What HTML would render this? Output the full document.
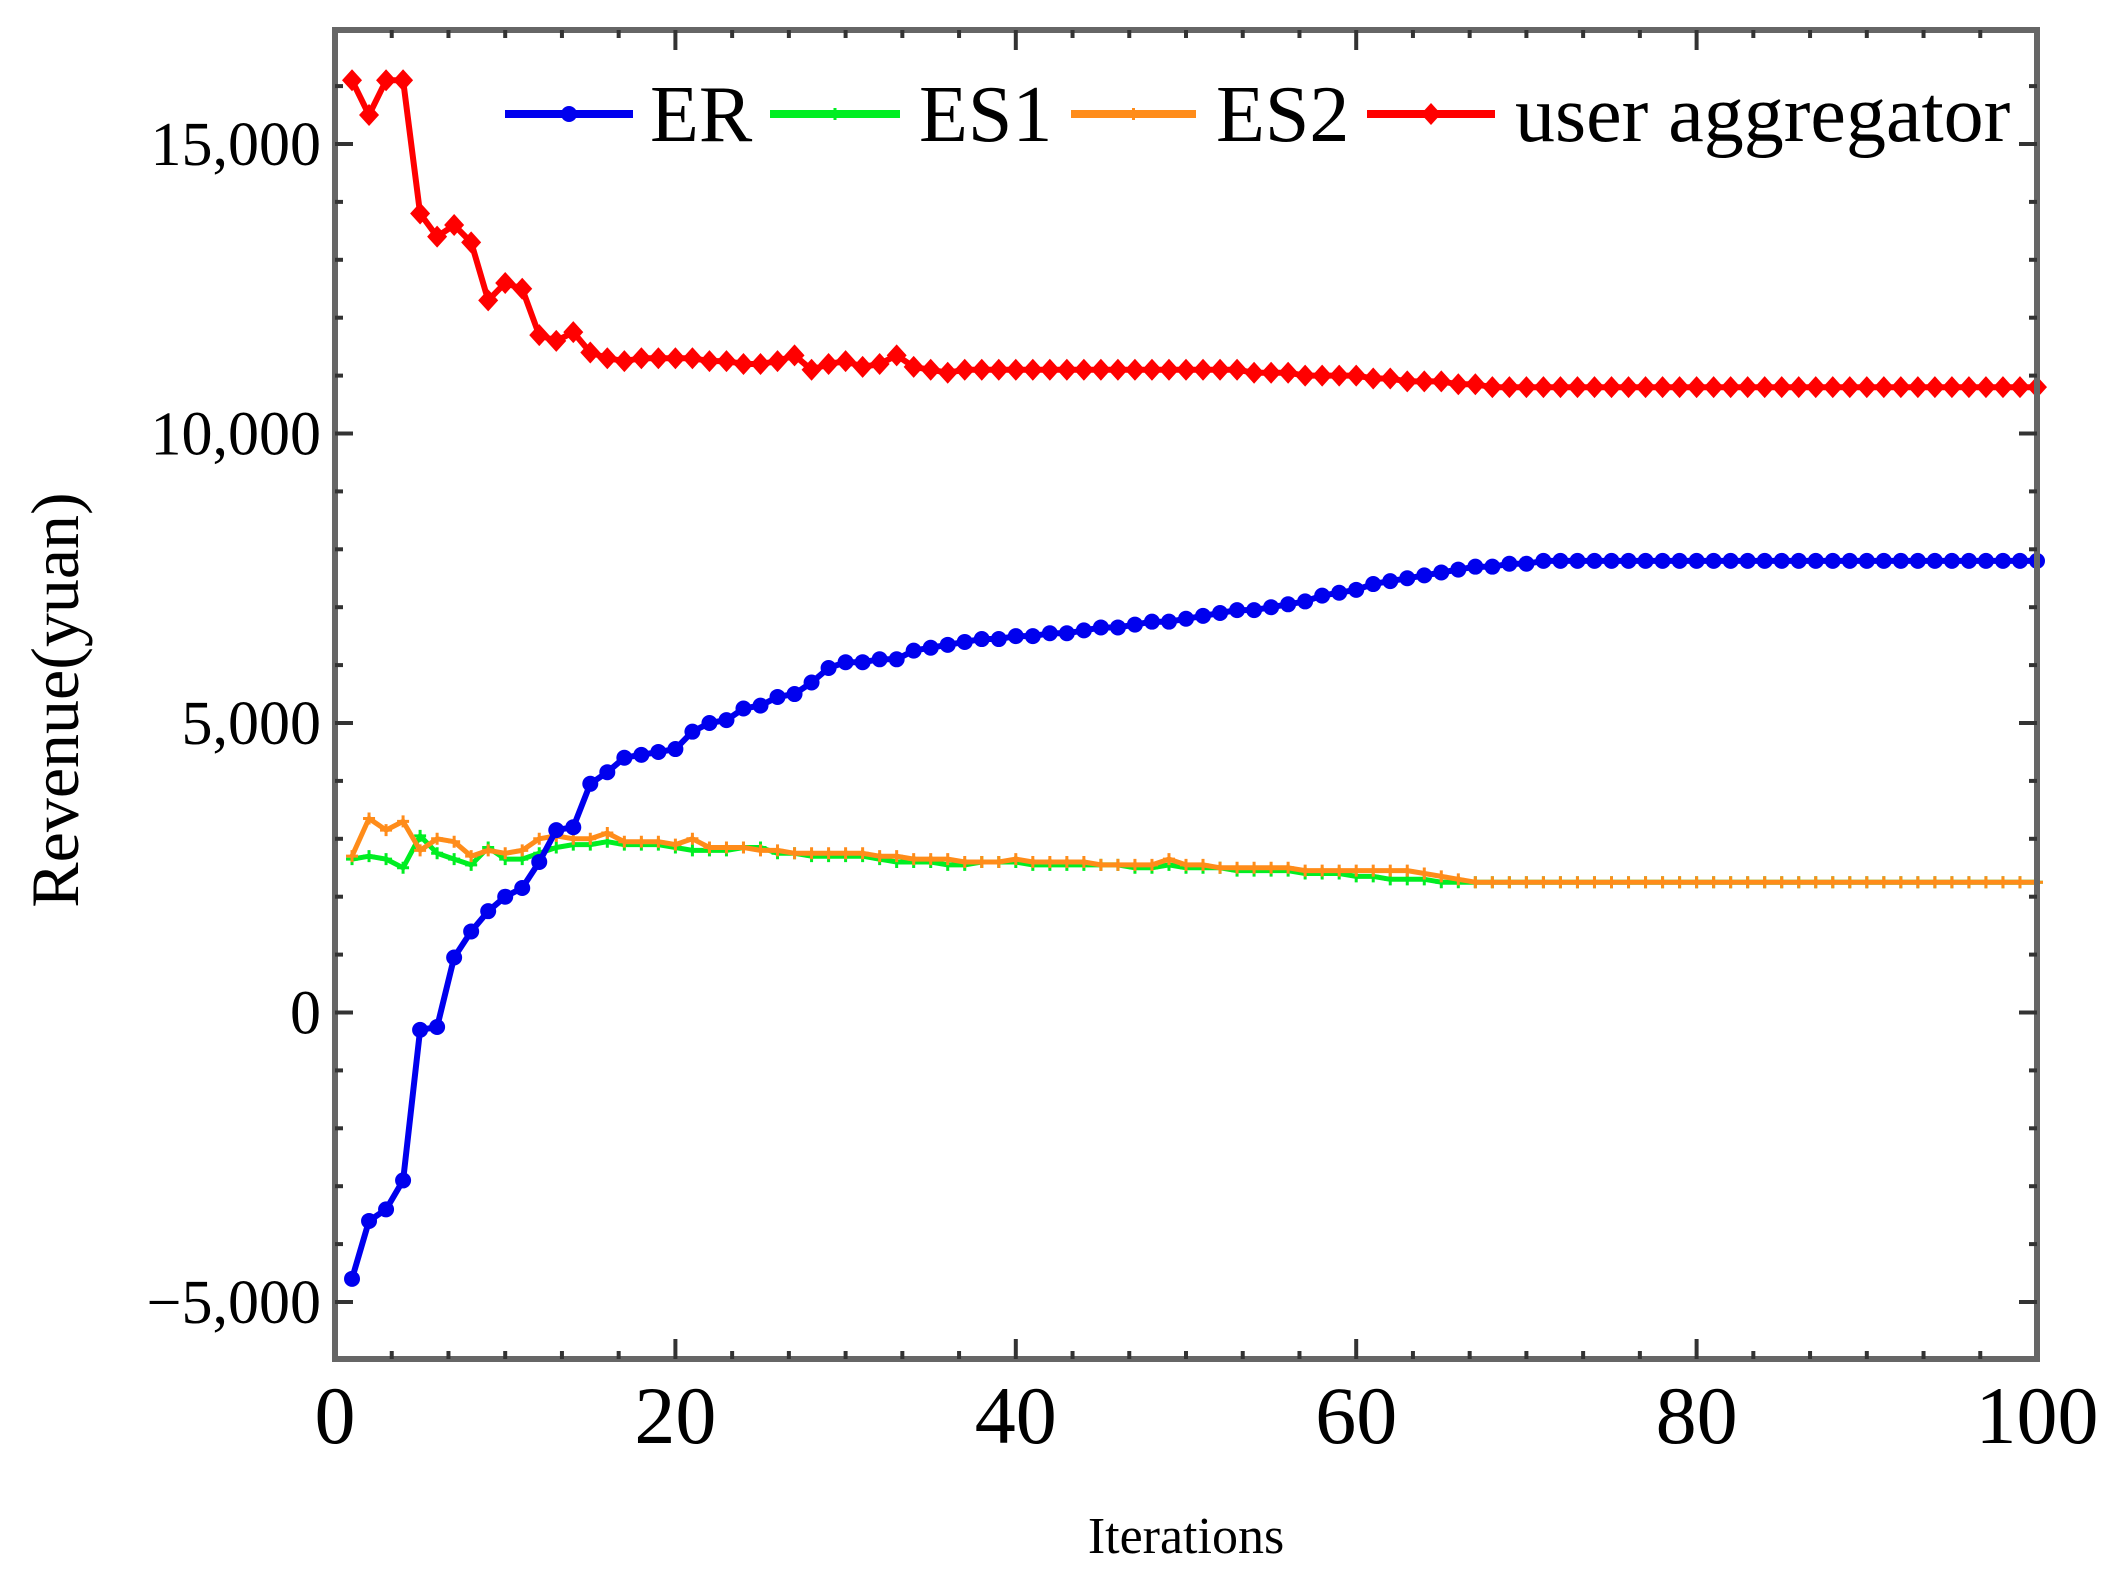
<!DOCTYPE html>
<html><head><meta charset="utf-8"><style>
html,body{margin:0;padding:0;background:#fff;width:2112px;height:1587px;overflow:hidden}
svg{display:block;font-family:"Liberation Serif",serif}
</style></head><body>
<svg id="chart" width="2112" height="1587" viewBox="0 0 2112 1587" xmlns="http://www.w3.org/2000/svg">
<g id="grid"></g>
<g id="series"></g>
<g id="axes"></g>
<text x="0" y="0" transform="translate(78,700) rotate(-90)" text-anchor="middle" font-size="68">Revenue(yuan)</text>
<text x="1186" y="1553" text-anchor="middle" font-size="52">Iterations</text>
<g id="legend"></g>
</svg>
<script>
const iterations = Array.from({length:100},(_,i)=>i+1);
const userAgg = [16100,15500,16100,16100,13800,13400,13600,13300,12300,12600,
12500,11700,11600,11750,11400,11300,11250,11300,11300,11300,
11300,11250,11250,11200,11200,11250,11350,11100,11200,11250,
11150,11200,11350,11150,11100,11050,11100,11100,11100,11100,
11100,11100,11100,11100,11100,11100,11100,11100,11100,11100,
11100,11100,11100,11050,11050,11050,11000,11000,11000,11000,
10950,10950,10900,10900,10900,10850,10850,10800,10800,10800,
10800,10800,10800,10800,10800,10800,10800,10800,10800,10800,
10800,10800,10800,10800,10800,10800,10800,10800,10800,10800,
10800,10800,10800,10800,10800,10800,10800,10800,10800,10800];
const er = [-4600,-3600,-3400,-2900,-300,-250,950,1400,1750,2000,
2150,2600,3150,3200,3950,4150,4400,4450,4500,4550,
4850,5000,5050,5250,5300,5450,5500,5700,5950,6050,
6050,6100,6100,6250,6300,6350,6400,6450,6450,6500,
6500,6550,6550,6600,6650,6650,6700,6750,6750,6800,
6850,6900,6950,6950,7000,7050,7100,7200,7250,7300,
7400,7450,7500,7550,7600,7650,7700,7700,7750,7750,
7800,7800,7800,7800,7800,7800,7800,7800,7800,7800,
7800,7800,7800,7800,7800,7800,7800,7800,7800,7800,
7800,7800,7800,7800,7800,7800,7800,7800,7800,7800];
const es1 = [2650,2700,2650,2500,3050,2750,2650,2550,2850,2650,
2650,2750,2850,2900,2900,2950,2900,2900,2900,2850,
2800,2800,2800,2850,2850,2750,2750,2700,2700,2700,
2700,2650,2600,2600,2600,2550,2550,2600,2600,2600,
2550,2550,2550,2550,2550,2550,2500,2500,2550,2500,
2500,2500,2450,2450,2450,2450,2400,2400,2400,2350,
2350,2300,2300,2300,2250,2250,2250,2250,2250,2250,
2250,2250,2250,2250,2250,2250,2250,2250,2250,2250,
2250,2250,2250,2250,2250,2250,2250,2250,2250,2250,
2250,2250,2250,2250,2250,2250,2250,2250,2250,2250];
const es2 = [2700,3350,3150,3300,2800,3000,2950,2700,2800,2750,
2800,3000,3050,3000,3000,3100,2950,2950,2950,2900,
3000,2850,2850,2850,2800,2800,2750,2750,2750,2750,
2750,2700,2700,2650,2650,2650,2600,2600,2600,2650,
2600,2600,2600,2600,2550,2550,2550,2550,2650,2550,
2550,2500,2500,2500,2500,2500,2450,2450,2450,2450,
2450,2450,2450,2400,2350,2300,2250,2250,2250,2250,
2250,2250,2250,2250,2250,2250,2250,2250,2250,2250,
2250,2250,2250,2250,2250,2250,2250,2250,2250,2250,
2250,2250,2250,2250,2250,2250,2250,2250,2250,2250];
const xTicks = [0,20,40,60,80,100];
const yTicks = [-5000,0,5000,10000,15000];
const yTickLabels = ["\u22125,000","0","5,000","10,000","15,000"];

const L=335,R=2037,T=30,B=1359;
const X0=0,X1=100;
const yScale=v=>1302-(v+5000)*(1158/20000);
const xScale=v=>L+(v-X0)*(R-L)/(X1-X0);
const NS="http://www.w3.org/2000/svg";
function mk(tag,attrs,parent){const e=document.createElementNS(NS,tag);for(const k in attrs)e.setAttribute(k,attrs[k]);parent.appendChild(e);return e;}
const axes=document.getElementById('axes');
const seriesG=document.getElementById('series');
const legend=document.getElementById('legend');

const frame=mk('rect',{x:L,y:T,width:R-L,height:B-T,fill:'none',stroke:'#666','stroke-width':6},axes);


for(let v=-6000;v<=17000;v+=1000){
  const y=yScale(v); if(y<T+4||y>B-4) continue;
  const major=v%5000===0; const len=major?18:8;
  mk('line',{x1:L,x2:L+len,y1:y,y2:y,stroke:'#333','stroke-width':4},axes);
  mk('line',{x1:R,x2:R-len,y1:y,y2:y,stroke:'#333','stroke-width':4},axes);
}
yTicks.forEach((v,i)=>{
  const t=mk('text',{x:L-14,y:yScale(v)+21,'text-anchor':'end','font-size':62},axes);
  t.textContent=yTickLabels[i];
  
  
});
for(let k=0;k<=30;k++){
  const v=k*20/6; const x=xScale(v); if(x<L+4||x>R-4) continue;
  const major=k%6===0; const len=major?20:8;
  mk('line',{x1:x,x2:x,y1:B,y2:B-len,stroke:'#333','stroke-width':4},axes);
  mk('line',{x1:x,x2:x,y1:T,y2:T+len,stroke:'#333','stroke-width':4},axes);
}
xTicks.forEach(v=>{
  const t=mk('text',{x:xScale(v),y:1443,'text-anchor':'middle','font-size':82},axes);
  t.textContent=String(v);
  
  
});

function marker(type,x,y,color,g,s){
  s=s||1;
  if(type==='dot'){mk('circle',{cx:x,cy:y,r:8*s,fill:color},g);}
  else if(type==='diamond'){mk('path',{d:`M${x} ${y-11*s}L${x+10*s} ${y}L${x} ${y+11*s}L${x-10*s} ${y}Z`,fill:color},g);}
  else if(type==='plus'){mk('path',{d:`M${x-6} ${y}H${x+6}M${x} ${y-6}V${y+6}`,stroke:color,'stroke-width':3,fill:'none'},g);}
}
function drawSeries(vals,color,width,mtype,name){
  const g=mk('g',{},seriesG);
  
  
  const d=vals.map((v,i)=>(i?'L':'M')+xScale(iterations[i]).toFixed(1)+' '+yScale(v).toFixed(1)).join('');
  mk('path',{d:d,fill:'none',stroke:color,'stroke-width':width,'stroke-linejoin':'round'},g);
  vals.forEach((v,i)=>marker(mtype,xScale(iterations[i]),yScale(v),color,g));
}
drawSeries(es1,'#00ee22',5,'plus','series-es1');
drawSeries(es2,'#ff8c1a',5,'plus','series-es2');
drawSeries(er,'#0000ee',6,'dot','series-er');
drawSeries(userAgg,'#ff0000',6,'diamond','series-user-aggregator');

const lbg=mk('rect',{x:495,y:62,width:1520,height:92,fill:'#fff'},legend);


const legendItems=[
  {name:'ER',color:'#0000ee',m:'dot',x1:505,x2:633,tx:650},
  {name:'ES1',color:'#00ee22',m:'plus',x1:770,x2:900,tx:919},
  {name:'ES2',color:'#ff8c1a',m:'plus',x1:1071,x2:1196,tx:1216},
  {name:'user aggregator',color:'#ff0000',m:'diamond',x1:1367,x2:1495,tx:1515}
];
legendItems.forEach(it=>{
  const g=mk('g',{},legend);
  
  
  mk('line',{x1:it.x1,x2:it.x2,y1:114,y2:114,stroke:it.color,'stroke-width':8},g);
  marker(it.m,(it.x1+it.x2)/2,114,it.color,g);
  const t=mk('text',{x:it.tx,y:141,'font-size':80},g);
  t.textContent=it.name;
});
</script>
</body></html>
